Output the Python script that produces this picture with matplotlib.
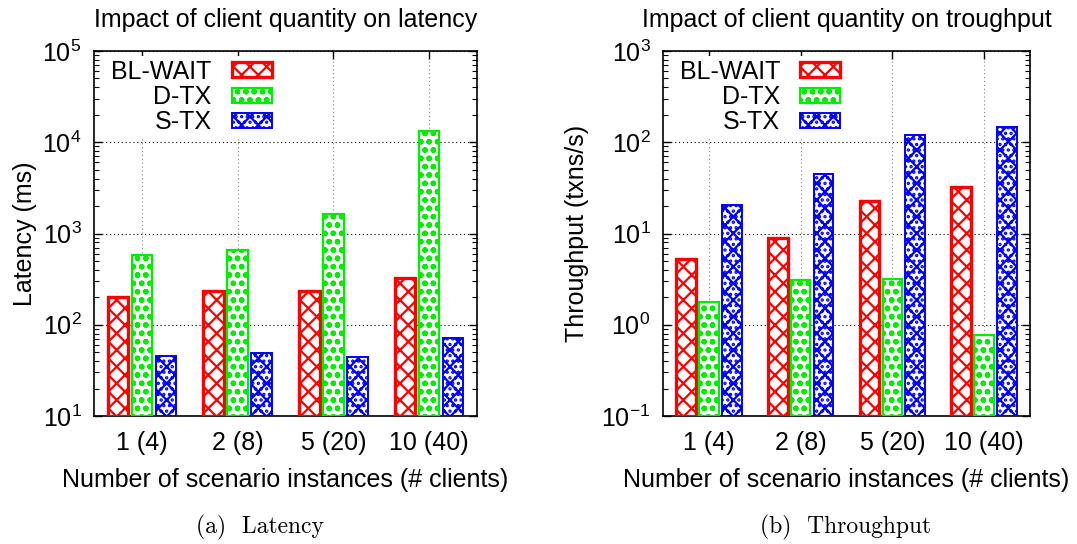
import matplotlib
matplotlib.use("Agg")
import matplotlib.pyplot as plt
import numpy as np
from matplotlib.ticker import LogLocator, FixedLocator, FuncFormatter, NullFormatter
from matplotlib.patches import Patch

plt.rcParams['font.family'] = ['Liberation Sans', 'DejaVu Sans']
plt.rcParams['mathtext.fontset'] = 'custom'
plt.rcParams['mathtext.rm'] = 'Liberation Sans'
plt.rcParams['mathtext.it'] = 'Liberation Sans:italic'
plt.rcParams['mathtext.bf'] = 'Liberation Sans:bold'
plt.rcParams['hatch.linewidth'] = 1.6

categories = ["1 (4)", "2 (8)", "5 (20)", "10 (40)"]
series = ["BL-WAIT", "D-TX", "S-TX"]

latency_blwait = [200, 232, 232, 326]
latency_dtx = [580, 658, 1640, 13400]
latency_stx = [46, 49.5, 44, 72]

throughput_blwait = [5.2, 8.95, 22.6, 32]
throughput_dtx = [1.77, 3.1, 3.17, 0.78]
throughput_stx = [20.3, 45, 120, 146]

colors = ["#ff0000", "#00ee00", "#0000ff"]
hatches = ["xx", "oo", "xx..."]
edge_lw = [2.4, 1.6, 1.4]

FS = 18

fig = plt.figure(figsize=(10.77, 5.44), dpi=100)
ax1 = fig.add_axes([94 / 1077, 128 / 544, 383 / 1077, 365 / 544])
ax2 = fig.add_axes([663 / 1077, 128 / 544, 367 / 1077, 365 / 544])


def pow10(v, pos):
    e = int(round(np.log10(v)))
    return r"$10^{%d}$" % e


def draw(ax, data, ylim, title, ylabel, caption, caption_x, ylabelpad):
    x = np.arange(len(categories))
    offsets = [-0.25, 0.0, 0.25]
    base = ylim[0]
    for i, vals in enumerate(data):
        heights = np.asarray(vals, dtype=float) - base
        ax.bar(x + offsets[i], heights, width=0.215, bottom=base,
               color="white", edgecolor=colors[i], hatch=hatches[i],
               linewidth=edge_lw[i], zorder=3)
    ax.set_yscale("log")
    ax.set_ylim(*ylim)
    ax.set_xlim(-0.5, len(categories) - 0.5)
    ax.xaxis.set_major_locator(FixedLocator(x))
    ax.set_xticklabels(categories, fontsize=FS)
    ax.yaxis.set_major_locator(LogLocator(base=10, numticks=20))
    ax.yaxis.set_minor_locator(LogLocator(base=10, subs=np.arange(2, 10), numticks=20))
    ax.yaxis.set_major_formatter(FuncFormatter(pow10))
    ax.yaxis.set_minor_formatter(NullFormatter())
    ax.tick_params(axis="both", which="both", direction="in", top=True, right=True)
    ax.tick_params(axis="both", which="major", length=6, width=1.0, labelsize=FS, pad=9)
    ax.tick_params(axis="y", which="minor", length=3.5, width=0.8)
    ax.tick_params(axis="x", pad=11)
    ax.grid(True, axis="y", which="major", color="black", linestyle=(0, (1, 2.5)), linewidth=0.8, zorder=0)
    ax.grid(True, axis="x", which="major", color="#888888", linestyle=(0, (1, 2.5)), linewidth=0.8, zorder=0)
    for s in ax.spines.values():
        s.set_linewidth(1.2)
    ax.set_title(title, fontsize=FS, pad=17)
    ax.set_ylabel(ylabel, fontsize=FS, labelpad=ylabelpad)
    ax.set_xlabel("Number of scenario instances (# clients)", fontsize=FS, labelpad=9)
    handles = [Patch(facecolor="white", edgecolor=colors[i], hatch=hatches[i],
                     linewidth=edge_lw[i]) for i in range(3)]
    leg = ax.legend(handles, series, loc="upper left", bbox_to_anchor=(0.022, 1.0),
                    fontsize=FS, markerfirst=False, frameon=True, framealpha=1.0,
                    edgecolor="none", facecolor="white", fancybox=False,
                    handlelength=1.6, handleheight=0.55, labelspacing=0.05,
                    handletextpad=0.8, borderpad=0.15, borderaxespad=0.2)
    for t in leg.get_texts():
        t.set_ha("right")
    leg.set_zorder(5)
    fig.text(caption_x / 1077, 1 - 527 / 544, caption, ha="center", va="center",
             fontsize=17, family="cmr10")


draw(ax1, [latency_blwait, latency_dtx, latency_stx], (10, 1e5),
     "Impact of client quantity on latency", "Latency (ms)", "(a)  Latency", 260, 4)
draw(ax2, [throughput_blwait, throughput_dtx, throughput_stx], (0.1, 1e3),
     "Impact of client quantity on troughput", "Throughput (txns/s)", "(b)  Throughput",
     846, 9)

fig.savefig("out.png", dpi=100)
